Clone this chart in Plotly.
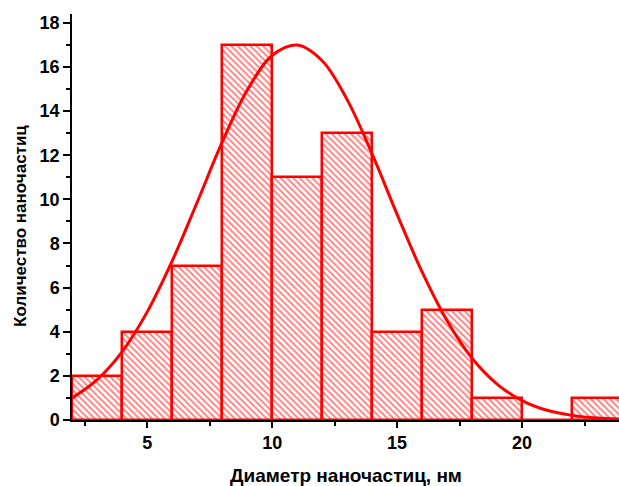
import plotly.graph_objects as go

# Histogram data (bin centers, counts)
bin_centers = [3, 5, 7, 9, 11, 13, 15, 17, 19, 21, 23]
counts = [2, 4, 7, 17, 11, 13, 4, 5, 1, 0, 1]
bin_width = 2

# Fit curve
curve_x = [2, 3, 4, 5, 6, 7, 8, 9, 10, 11, 12, 13, 14, 15, 16, 17, 18, 19, 20, 21, 22, 23, 24]
curve_y = [1.0, 1.83, 3.1, 4.9, 7.21, 9.87, 12.59, 14.94, 16.52, 16.99, 16.28, 14.52,
           12.06, 9.32, 6.71, 4.5, 2.8, 1.63, 0.88, 0.44, 0.21, 0.09, 0.04]

x_ticks = [5, 10, 15, 20]
x_minor = [2.5, 7.5, 12.5, 17.5, 22.5]

x_title = "Диаметр наночастиц, нм"
y_title = "Количество наночастиц"

font_family = "Liberation Sans, Arial, sans-serif"

fig = go.Figure()
fig.add_trace(go.Bar(
    x=bin_centers, y=counts, width=[bin_width] * len(counts),
    marker=dict(
        color="white",
        line=dict(color="red", width=2.5),
        pattern=dict(shape="\\", fgcolor="red", bgcolor="white", size=4.5, solidity=0.4),
    ),
    showlegend=False,
))
fig.add_trace(go.Scatter(
    x=curve_x, y=curve_y, mode="lines",
    line=dict(color="red", width=3, shape="spline"),
    showlegend=False,
))

fig.update_layout(
    width=619, height=486,
    margin=dict(l=72, r=0, t=14, b=66, autoexpand=False),
    plot_bgcolor="white", paper_bgcolor="white",
    bargap=0,
    font=dict(family=font_family, color="black"),
    xaxis=dict(
        range=[1.99, 23.88], tickvals=x_ticks, automargin=False,
        ticks="outside", ticklen=6, tickwidth=1.5, tickcolor="black",
        minor=dict(tickvals=x_minor, ticks="outside", ticklen=4, tickwidth=1.5, tickcolor="black"),
        showline=True, linecolor="black", linewidth=1.5,
        showgrid=False, zeroline=False,
        tickfont=dict(size=18, family=font_family, weight="bold"),
    ),
    yaxis=dict(
        range=[0, 18.4], dtick=2, tick0=0, automargin=False,
        ticks="outside", ticklen=7, tickwidth=1.5, tickcolor="black",
        minor=dict(dtick=1, ticks="outside", ticklen=4, tickwidth=1.5, tickcolor="black"),
        showline=True, linecolor="black", linewidth=1.5,
        showgrid=False, zeroline=False,
        tickfont=dict(size=18, family=font_family, weight="bold"),
    ),
    annotations=[
        dict(text=x_title, xref="paper", yref="paper", x=0.5, y=-0.1355,
             xanchor="center", yanchor="middle", showarrow=False,
             font=dict(size=19, family=font_family, weight="bold")),
        dict(text=y_title, xref="paper", yref="paper", x=-0.0932, y=0.478,
             xanchor="center", yanchor="middle", textangle=-90, showarrow=False,
             font=dict(size=17, family=font_family, weight="bold")),
    ],
)

# Remove the default 8px page margin so the figure fills the window exactly.
fig.write_html("out.html", config={"displayModeBar": False},
               post_script="document.body.style.margin='0px';")
